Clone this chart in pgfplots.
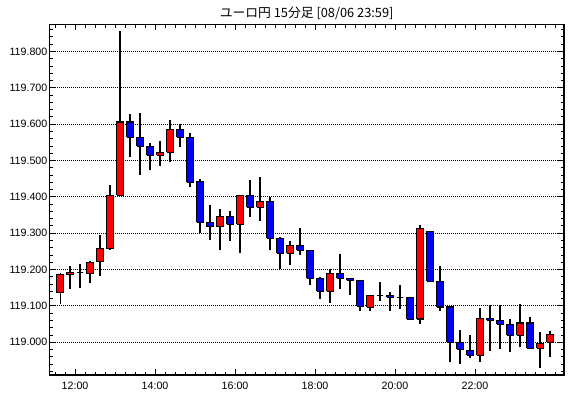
\documentclass[border=0pt]{standalone}
\usepackage{fontspec}
\setmainfont{Liberation Sans}
\newfontfamily\jp{Noto Sans CJK JP}
\usepackage{pgfplots}
\pgfplotsset{compat=1.18}
\definecolor{cRed}{RGB}{255,0,0}
\definecolor{cBlue}{RGB}{0,0,255}
% \candle{time}{low}{body bottom}{body top}{high}{colour}
\newcommand\candle[6]{%
  \pgfmathsetmacro\xl{#1-0.078}%
  \pgfmathsetmacro\xr{#1+0.078}%
  \edef\tmp{%
    \noexpand\addplot[black, line width=0.8pt] coordinates {(#1,#2) (#1,#5)};
    \noexpand\addplot[draw=black, fill=#6, line width=0.8pt] coordinates {(\xl,#3) (\xr,#3) (\xr,#4) (\xl,#4) (\xl,#3)};
  }\tmp}
\begin{document}
\begin{tikzpicture}
\path[use as bounding box] (0pt,0pt) rectangle (427.5pt,298.5pt);
\begin{axis}[
  at={(37pt,17.25pt)}, anchor=south west,
  scale only axis, width=386pt, height=263pt,
  xmin=11.3575, xmax=24.225,
  ymin=118.910, ymax=119.8748,
  axis line style={black, line width=1.1pt},
  xtick={12,14,16,18,20,22},
  xticklabels={12:00,14:00,16:00,18:00,20:00,22:00},
  minor xtick={11.5,11.75,12.25,12.5,12.75,13,13.25,13.5,13.75,14.25,14.5,14.75,15,15.25,15.5,15.75,16.25,16.5,16.75,17,17.25,17.5,17.75,18.25,18.5,18.75,19,19.25,19.5,19.75,20.25,20.5,20.75,21,21.25,21.5,21.75,22.25,22.5,22.75,23,23.25,23.5,23.75,24},
  ytick={119.0,119.1,119.2,119.3,119.4,119.5,119.6,119.7,119.8},
  minor ytick={118.92,118.94,118.96,118.98,119.02,119.04,119.06,119.08,119.12,119.14,119.16,119.18,119.22,119.24,119.26,119.28,119.32,119.34,119.36,119.38,119.42,119.44,119.46,119.48,119.52,119.54,119.56,119.58,119.62,119.64,119.66,119.68,119.72,119.74,119.76,119.78,119.82,119.84,119.86},
  tick align=inside,
  xtick pos=both, ytick pos=both,
  major tick length=4.5pt, minor tick length=2.4pt,
  every tick/.style={black, line width=0.75pt},
  ymajorgrids,
  major grid style={black, line width=0.75pt, dash pattern=on 0.75pt off 0.75pt},
  ticklabel style={font=\fontsize{8}{9}\selectfont},
  yticklabel style={/pgf/number format/fixed, /pgf/number format/fixed zerofill, /pgf/number format/precision=3, /pgf/number format/assume math mode=true, anchor=east, inner sep=0pt, xshift=-1.3pt},
  xticklabel style={anchor=north, inner sep=0pt, yshift=-5.2pt},
  title={\jp ユーロ円 15分足 [08/06 23:59]},
  every axis title/.style={at={(0.5,1)}, anchor=center, yshift=8.4pt, inner sep=0pt, font=\fontsize{9.6}{11}\selectfont},
]
\candle{11.625}{119.105}{119.136}{119.187}{119.190}{cRed}
\candle{11.875}{119.147}{119.186}{119.192}{119.209}{cRed}
\candle{12.125}{119.150}{119.191}{119.191}{119.214}{cBlue}
\candle{12.375}{119.164}{119.189}{119.219}{119.225}{cRed}
\candle{12.625}{119.183}{119.222}{119.257}{119.294}{cRed}
\candle{12.875}{119.254}{119.258}{119.404}{119.433}{cRed}
\candle{13.125}{119.404}{119.405}{119.606}{119.857}{cRed}
\candle{13.375}{119.509}{119.564}{119.606}{119.628}{cBlue}
\candle{13.625}{119.461}{119.539}{119.564}{119.631}{cBlue}
\candle{13.875}{119.475}{119.514}{119.539}{119.549}{cBlue}
\candle{14.125}{119.486}{119.514}{119.523}{119.554}{cRed}
\candle{14.375}{119.497}{119.523}{119.586}{119.612}{cRed}
\candle{14.625}{119.536}{119.564}{119.586}{119.600}{cBlue}
\candle{14.875}{119.426}{119.440}{119.564}{119.576}{cBlue}
\candle{15.125}{119.300}{119.330}{119.442}{119.449}{cBlue}
\candle{15.375}{119.282}{119.318}{119.330}{119.378}{cBlue}
\candle{15.625}{119.254}{119.318}{119.347}{119.367}{cRed}
\candle{15.875}{119.279}{119.325}{119.347}{119.361}{cBlue}
\candle{16.125}{119.246}{119.325}{119.404}{119.405}{cRed}
\candle{16.375}{119.345}{119.371}{119.404}{119.446}{cBlue}
\candle{16.625}{119.334}{119.371}{119.387}{119.454}{cRed}
\candle{16.875}{119.255}{119.286}{119.387}{119.401}{cBlue}
\candle{17.125}{119.201}{119.245}{119.286}{119.291}{cBlue}
\candle{17.375}{119.213}{119.245}{119.266}{119.278}{cRed}
\candle{17.625}{119.240}{119.253}{119.266}{119.314}{cBlue}
\candle{17.875}{119.158}{119.176}{119.253}{119.254}{cBlue}
\candle{18.125}{119.120}{119.140}{119.176}{119.180}{cBlue}
\candle{18.375}{119.109}{119.140}{119.190}{119.201}{cRed}
\candle{18.625}{119.146}{119.176}{119.190}{119.242}{cBlue}
\candle{18.875}{119.131}{119.170}{119.176}{119.177}{cBlue}
\candle{19.125}{119.087}{119.099}{119.170}{119.171}{cBlue}
\candle{19.375}{119.087}{119.096}{119.129}{119.130}{cRed}
\candle{19.625}{119.113}{119.129}{119.129}{119.165}{cBlue}
\candle{19.875}{119.087}{119.124}{119.129}{119.137}{cBlue}
\candle{20.125}{119.091}{119.124}{119.124}{119.157}{cBlue}
\candle{20.375}{119.060}{119.063}{119.124}{119.125}{cBlue}
\candle{20.625}{119.049}{119.064}{119.312}{119.322}{cRed}
\candle{20.875}{119.168}{119.168}{119.304}{119.305}{cBlue}
\candle{21.125}{119.086}{119.097}{119.168}{119.211}{cBlue}
\candle{21.375}{118.947}{119.000}{119.097}{119.098}{cBlue}
\candle{21.625}{118.939}{118.981}{119.000}{119.034}{cBlue}
\candle{21.875}{118.958}{118.964}{118.978}{119.020}{cBlue}
\candle{22.125}{118.947}{118.964}{119.066}{119.095}{cRed}
\candle{22.375}{118.976}{119.061}{119.066}{119.102}{cBlue}
\candle{22.625}{118.981}{119.050}{119.061}{119.102}{cBlue}
\candle{22.875}{118.974}{119.019}{119.050}{119.064}{cBlue}
\candle{23.125}{118.986}{119.019}{119.053}{119.105}{cRed}
\candle{23.375}{118.984}{118.984}{119.053}{119.069}{cBlue}
\candle{23.625}{118.928}{118.984}{118.997}{119.028}{cRed}
\candle{23.875}{118.959}{119.000}{119.022}{119.030}{cRed}
\end{axis}
\end{tikzpicture}
\end{document}
